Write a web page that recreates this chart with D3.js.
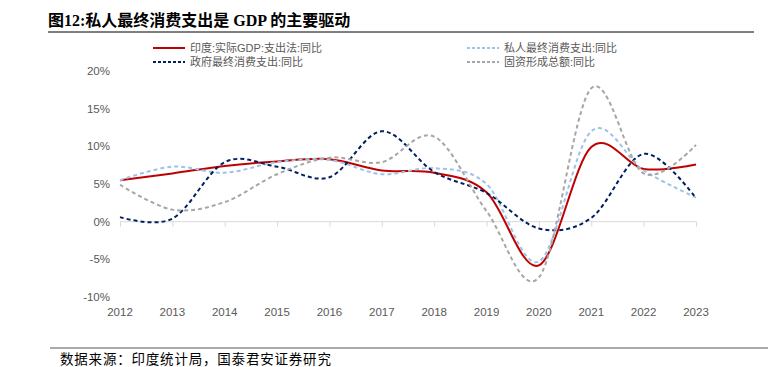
<!DOCTYPE html>
<html>
<head>
<meta charset="utf-8">
<script src="https://cdn.jsdelivr.net/npm/d3@7"></script>
<style>
body { margin:0; background:#fff; }
svg { display:block; }
</style>
</head>
<body>
<svg id="chart" width="769" height="367"></svg>
<script>
// data (FY growth rates, %)
var years = ["2012","2013","2014","2015","2016","2017","2018","2019","2020","2021","2022","2023"];
var gdp      = [5.5, 6.4, 7.4, 8.0, 8.3, 6.8, 6.5, 3.9, -5.8, 9.9, 7.0, 7.6];
var privCons = [5.5, 7.3, 6.5, 7.9, 8.2, 6.3, 7.1, 5.0, -5.3, 12.0, 6.8, 3.2];
var govCons  = [0.6, 0.4, 7.9, 7.3, 5.9, 12.0, 6.6, 3.8, -0.9, 0.5, 9.0, 3.1];
var gfcf     = [4.9, 1.6, 2.6, 6.3, 8.5, 7.9, 11.3, 1.4, -7.4, 17.7, 6.4, 10.2];
var yTicks = [-10, -5, 0, 5, 10, 15, 20];

var names = ["印度:实际GDP:支出法:同比", "私人最终消费支出:同比", "政府最终消费支出:同比", "固资形成总额:同比"];

var svg = d3.select("#chart");

var x = d3.scalePoint().domain(years).range([120, 696]);
var y = d3.scaleLinear().domain([-10, 20]).range([297, 71]);

var sans = "Arial, 'Liberation Sans', 'Noto Sans CJK SC', sans-serif";
var grey = "#595959";

// title
svg.append("text")
  .attr("x", 48).attr("y", 26)
  .attr("font-family", "'Liberation Serif', 'Noto Sans CJK SC', serif")
  .attr("font-weight", "bold")
  .attr("font-size", 16)
  .attr("fill", "#000")
  .text("图12:私人最终消费支出是 GDP 的主要驱动");
svg.append("line")
  .attr("x1", 48).attr("x2", 754).attr("y1", 32).attr("y2", 32)
  .attr("stroke", "#000").attr("stroke-width", 1);

// y axis labels (no line)
svg.append("g").selectAll("text").data(yTicks).enter().append("text")
  .attr("x", 110).attr("y", function(d){ return y(d) + 4; })
  .attr("text-anchor", "end")
  .attr("font-family", sans).attr("font-size", 11.5).attr("fill", grey)
  .text(function(d){ return d + "%"; });

// zero axis with ticks
var xAxis = d3.axisBottom(x).tickSize(5).tickFormat("");
var gx = svg.append("g").attr("transform", "translate(0," + y(0) + ")").call(xAxis);
gx.select(".domain").attr("stroke", "#d9d9d9").attr("d", "M120,0H696");
gx.selectAll(".tick line").attr("stroke", "#d9d9d9");

// x labels at bottom
svg.append("g").selectAll("text").data(years).enter().append("text")
  .attr("x", function(d){ return x(d); }).attr("y", 316)
  .attr("text-anchor", "middle")
  .attr("font-family", sans).attr("font-size", 11.5).attr("fill", grey)
  .text(function(d){ return d; });

var series = [
  {vals: gdp,      color: "#c00000", dash: null,  w: 2},
  {vals: privCons, color: "#9dc3e6", dash: "4,3", w: 2},
  {vals: govCons,  color: "#002060", dash: "4,3", w: 2},
  {vals: gfcf,     color: "#a6a6a6", dash: "4,3", w: 2}
];

var line = d3.line()
  .x(function(d, i){ return x(years[i]); })
  .y(function(d){ return y(d); })
  .curve(d3.curveCardinal.tension(0));

series.forEach(function(s){
  svg.append("path")
    .attr("d", line(s.vals))
    .attr("fill", "none")
    .attr("stroke", s.color)
    .attr("stroke-width", s.w)
    .attr("stroke-dasharray", s.dash);
});

// legend
var legPos = [[153, 48], [467, 48], [153, 62], [467, 62]];
series.forEach(function(s, i){
  var p = legPos[i];
  svg.append("line")
    .attr("x1", p[0]).attr("x2", p[0] + 32).attr("y1", p[1]).attr("y2", p[1])
    .attr("stroke", s.color).attr("stroke-width", 2)
    .attr("stroke-dasharray", s.dash ? "3,2" : null);
  svg.append("text")
    .attr("x", p[0] + 37).attr("y", p[1] + 4)
    .attr("font-family", sans).attr("font-size", 11).attr("fill", grey)
    .text(names[i]);
});

// footer
svg.append("line")
  .attr("x1", 50).attr("x2", 768).attr("y1", 348).attr("y2", 348)
  .attr("stroke", "#555").attr("stroke-width", 1.2);
svg.append("text")
  .attr("x", 60).attr("y", 364)
  .attr("font-family", "'Noto Sans CJK SC', serif")
  .attr("font-size", 13.5).attr("letter-spacing", 0.8).attr("fill", "#000")
  .text("数据来源：印度统计局，国泰君安证券研究");
</script>
</body>
</html>
